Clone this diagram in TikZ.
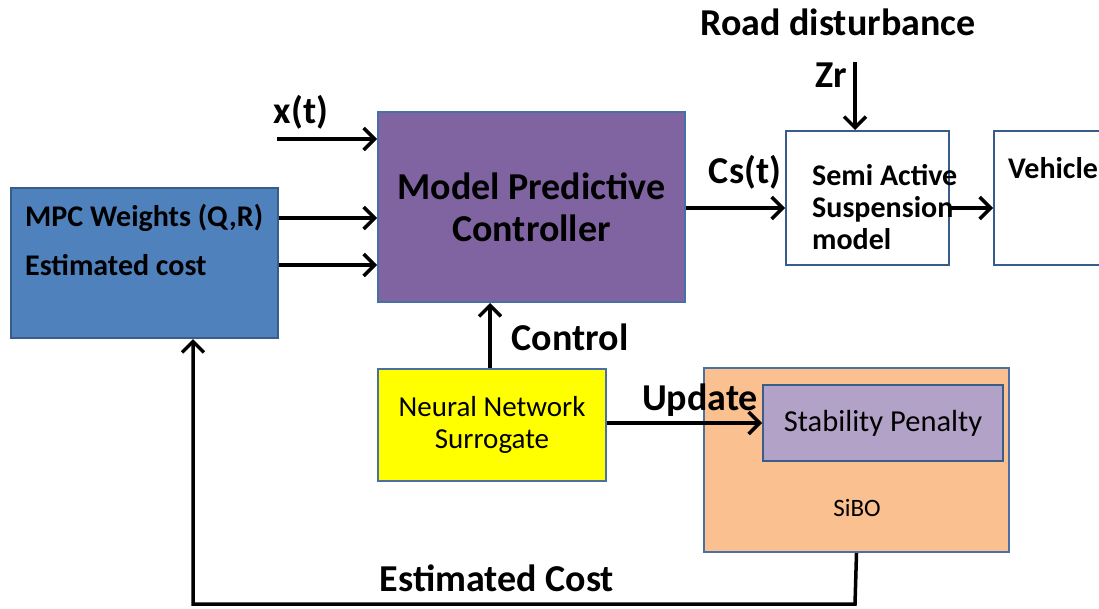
\documentclass[tikz,border=0pt]{standalone}
\usepackage{fontspec}
\setmainfont{Carlito}
\usetikzlibrary{arrows.meta}
\definecolor{wfill}{HTML}{4F81BD}
\definecolor{wline}{HTML}{385D8A}
\definecolor{mfill}{HTML}{8064A2}
\definecolor{bline}{HTML}{4A6FA5}
\definecolor{nfill}{HTML}{FFFF00}
\definecolor{sfill}{HTML}{FAC090}
\definecolor{pfill}{HTML}{B3A2C7}
\tikzset{
  box/.style={draw=bline, line width=2pt, inner sep=0pt, anchor=north west},
  arr/.style={line width=3.5pt, -{Straight Barb[length=11pt,width=22pt]}},
  big/.style={font=\bfseries\fontsize{38}{42}\selectfont, inner sep=0pt},
  mid/.style={font=\bfseries\fontsize{30}{32}\selectfont, inner sep=0pt},
  reg/.style={font=\fontsize{29}{32}\selectfont, inner sep=0pt},
}
\begin{document}
\begin{tikzpicture}[x=1pt,y=-1pt]
\useasboundingbox (0,0) rectangle (1099,608);
\clip (0,0) rectangle (1099,608);
% boxes
\node[box, draw=wline, fill=wfill, minimum width=267pt, minimum height=150pt] (mpcw) at (10,187) {};
\node[box, fill=mfill, minimum width=307pt, minimum height=190pt, align=center, big] (mpc) at (377,111) {Model Predictive\\Controller};
\node[box, draw=wline, fill=white, minimum width=163pt, minimum height=134pt] (semi) at (785,130) {};
\node[box, draw=wline, fill=white, minimum width=130pt, minimum height=134pt] (veh) at (993,130) {};
\node[box, fill=nfill, minimum width=228pt, minimum height=112pt, align=center, reg] (nn) at (377,368) {Neural Network\\Surrogate};
\node[box, fill=sfill, minimum width=305pt, minimum height=184pt] (sibo) at (703,367) {};
\node[box, draw=wline, fill=pfill, minimum width=240pt, minimum height=76pt, reg, font=\fontsize{30.5}{32}\selectfont] (stab) at (762,384) {Stability Penalty};
% box texts
\node[mid, anchor=west] (tw1) at (25,218) {MPC Weights (Q,R)};
\node[mid, anchor=west] (tw2) at (25,265) {Estimated cost};
\node[mid, anchor=west, align=left] (tsemi) at (812,207) {Semi Active\\Suspension\\model};
\node[mid, anchor=west] (tveh) at (1008,168) {Vehicle};
\node[reg, font=\fontsize{25}{28}\selectfont] (tsibo) at (857,508) {SiBO};
% labels
\node[big] (road) at (838,22) {Road disturbance};
\node[big] (zr) at (831,75) {Zr};
\node[big] (xt) at (301,112) {x(t)};
\node[big] (cs) at (745,172) {Cs(t)};
\node[big] (ctrl) at (570,337) {Control};
\node[big] (upd) at (700,400) {Update};
\node[big] (ecost) at (497,578) {Estimated Cost};
% coordinates
\coordinate (xin) at (277,139);
\coordinate (zin) at (855,62);
\coordinate (fbR) at (855,604);
\coordinate (fbL) at (193,604);
% connectors
\draw[arr] (xin) -- (xin -| mpc.west);
\draw[arr] (mpcw.east |- tw1) -- (mpc.west |- tw1);
\draw[arr] (mpcw.east |- tw2) -- (mpc.west |- tw2);
\draw[arr] (mpc.east |- 0,208) -- (semi.west |- 0,208);
\draw[arr] (semi.east |- 0,208) -- (veh.west |- 0,208);
\draw[arr] (zin) -- (zin |- semi.north);
\draw[arr] (nn.north -| 490,0) -- (mpc.south -| 490,0);
\draw[arr] (nn.east |- stab.west) -- (stab.west);
\draw[arr] (sibo.south) -- (fbR) -- (fbL) -- (fbL |- mpcw.south);
\end{tikzpicture}
\end{document}
